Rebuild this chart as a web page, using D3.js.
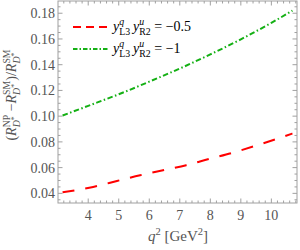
<!DOCTYPE html>
<html>
<head>
<meta charset="utf-8">
<script src="https://cdn.jsdelivr.net/npm/d3@7"></script>
<style>
  body { margin: 0; background: #fff; }
</style>
</head>
<body>
<div id="chart"></div>
<script>
// data
const q2Red = [3.16, 4.16, 4.94, 5.70, 6.45, 7.21, 7.96, 8.72, 9.47, 10.69];
const ratioRed = [0.0408, 0.0450, 0.0496, 0.0541, 0.0580, 0.0619, 0.0668, 0.0715, 0.0769, 0.0865];
const q2Green = [3.16, 4, 5, 6, 7, 8, 9, 10, 10.69];
const ratioGreen = [0.1005, 0.1080, 0.1170, 0.1268, 0.1370, 0.1480, 0.1597, 0.1725, 0.1820];
const xTicks = [4, 5, 6, 7, 8, 9, 10];
const yTicks = [0.04, 0.06, 0.08, 0.10, 0.12, 0.14, 0.16, 0.18];
const legendLabels = ["= \u22120.5", "= \u22121"];

const SERIF = "\"Liberation Serif\"";

function init() {
    const width = 300, height = 250;
    const left = 58, right = 297, top = 1, bottom = 203;

    const svg = d3.select("#chart").append("svg")
        .attr("width", width).attr("height", height);

    const x = d3.scaleLinear().domain([3.01, 10.84]).range([left, right]);
    const y = d3.scaleLinear().domain([0.0325, 0.1895]).range([bottom, top]);

    const frameColor = "#a0a0a0";
    const labelColor = "#555";

    // frame
    svg.append("rect")
        .attr("x", left).attr("y", top)
        .attr("width", right - left).attr("height", bottom - top)
        .attr("fill", "none").attr("stroke", frameColor).attr("stroke-width", 1);

    // ticks (inside, on all four sides)
    const xMinor = d3.range(3.2, 10.81, 0.2).filter(v => Math.abs(v - Math.round(v)) > 0.01);
    const yMinor = d3.range(0.035, 0.19, 0.005).filter(v => Math.abs(v * 50 - Math.round(v * 50)) > 0.01);
    const tg = svg.append("g").attr("stroke", frameColor).attr("stroke-width", 1);
    function xTick(v, len) {
        tg.append("line").attr("x1", x(v)).attr("x2", x(v)).attr("y1", bottom).attr("y2", bottom - len);
        tg.append("line").attr("x1", x(v)).attr("x2", x(v)).attr("y1", top).attr("y2", top + len);
    }
    function yTick(v, len) {
        tg.append("line").attr("y1", y(v)).attr("y2", y(v)).attr("x1", left).attr("x2", left + len);
        tg.append("line").attr("y1", y(v)).attr("y2", y(v)).attr("x1", right).attr("x2", right - len);
    }
    xTicks.forEach(v => xTick(v, 4.5));
    xMinor.forEach(v => xTick(v, 2.5));
    yTicks.forEach(v => yTick(v, 4.5));
    yMinor.forEach(v => yTick(v, 2.5));

    // tick labels
    svg.append("g").selectAll("text").data(xTicks).enter().append("text")
        .style("font-family", SERIF)
        .attr("x", d => x(d)).attr("y", bottom + 17)
        .attr("text-anchor", "middle").attr("font-size", 14).attr("fill", labelColor)
        .text(d => d);
    svg.append("g").selectAll("text").data(yTicks).enter().append("text")
        .style("font-family", SERIF)
        .attr("x", left - 3).attr("y", d => y(d) + 5)
        .attr("text-anchor", "end").attr("font-size", 14).attr("fill", labelColor)
        .text(d3.format(".2f"));

    // curves
    const line = d3.line().x(d => x(d[0])).y(d => y(d[1])).curve(d3.curveMonotoneX);
    const redPts = q2Red.map((q, i) => [q, ratioRed[i]]);
    const greenPts = q2Green.map((q, i) => [q, ratioGreen[i]]);
    svg.append("path").datum(redPts).attr("d", line)
        .attr("fill", "none").attr("stroke", "#ff0000").attr("stroke-width", 2)
        .attr("stroke-dasharray", "12,11");
    svg.append("path").datum(greenPts).attr("d", line)
        .attr("fill", "none").attr("stroke", "#14b014").attr("stroke-width", 2)
        .attr("stroke-dasharray", "5.5,2.5,1.5,2.5");

    // helper: base letter with stacked superscript and subscript
    // returns the dy and dx the next tspan needs
    function script(t, base, sup, sub, star) {
        t.append("tspan").attr("font-style", "italic").text(base);
        const s = t.append("tspan").attr("dy", -6).attr("font-size", "0.7em")
            .attr("font-style", star ? null : "italic").text(sup);
        const w = s.node().getComputedTextLength();
        const b = t.append("tspan").attr("dx", -w).attr("dy", 10).attr("font-size", "0.7em")
            .attr("font-style", star ? "italic" : null).text(sub);
        let wb = b.node().getComputedTextLength();
        let net = 4;
        if (star) {
            const st = t.append("tspan").attr("dy", -3).attr("font-size", "0.55em").text("*");
            wb += st.node().getComputedTextLength();
            net = 1;
        }
        return { dy: -net, dx: Math.max(0, w - wb) };
    }
    function next(t, r, txt, italic) {
        return t.append("tspan").attr("dy", r.dy).attr("dx", r.dx)
            .attr("font-style", italic ? "italic" : null).text(txt);
    }

    // legend
    const legY = [27, 49];
    const legendStyles = [
        { color: "#ff0000", dash: "8,5" },
        { color: "#14b014", dash: "4.5,2,1.5,2" }
    ];
    legendLabels.forEach((lab, i) => {
        svg.append("line").attr("x1", 73).attr("x2", 108).attr("y1", legY[i]).attr("y2", legY[i])
            .attr("stroke", legendStyles[i].color).attr("stroke-width", 2)
            .attr("stroke-dasharray", legendStyles[i].dash);
        const t = svg.append("text").style("font-family", SERIF)
            .attr("x", 113).attr("y", legY[i] + 4)
            .attr("font-size", 14).attr("fill", "#000");
        let r = script(t, "y", "q", "L3", false);
        r.dx += 3;
        // second factor starts after a thin gap
        t.append("tspan").attr("dy", r.dy).attr("dx", r.dx).attr("font-style", "italic").text("y");
        const s = t.append("tspan").attr("dy", -6).attr("font-size", "0.7em").attr("font-style", "italic").text("u");
        const w = s.node().getComputedTextLength();
        const b = t.append("tspan").attr("dx", -w).attr("dy", 10).attr("font-size", "0.7em").text("R2");
        const wb = b.node().getComputedTextLength();
        next(t, { dy: -4, dx: Math.max(0, w - wb) }, " " + lab, false);
    });

    // x axis label
    const xl = svg.append("text").style("font-family", SERIF)
        .attr("x", 178).attr("y", 241)
        .attr("text-anchor", "middle").attr("font-size", 15).attr("fill", labelColor);
    xl.append("tspan").attr("font-style", "italic").text("q");
    xl.append("tspan").attr("dy", -6).attr("font-size", "0.7em").text("2");
    xl.append("tspan").attr("dy", 6).text(" [GeV");
    xl.append("tspan").attr("dy", -6).attr("font-size", "0.7em").text("2");
    xl.append("tspan").attr("dy", 6).text("]");

    // y axis label
    const yl = svg.append("text").style("font-family", SERIF)
        .attr("transform", "translate(16,95) rotate(-90)")
        .attr("text-anchor", "middle").attr("font-size", 14).attr("fill", labelColor);
    yl.append("tspan").text("(");
    let r = script(yl, "R", "NP", "D", true);
    next(yl, r, " \u2212", false);
    r = script(yl, "R", "SM", "D", true);
    next(yl, r, ")/", false);
    script(yl, "R", "SM", "D", true);
}

window.onload = init;
</script>
</body>
</html>
